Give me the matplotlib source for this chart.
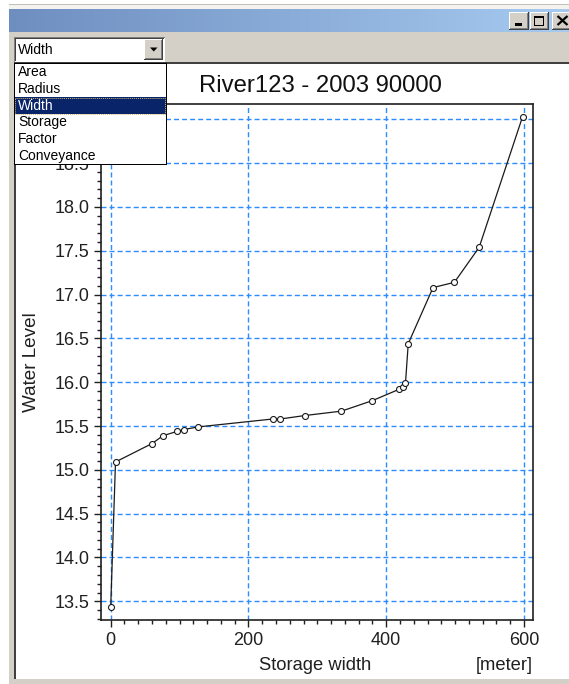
import matplotlib
matplotlib.use('Agg')
import matplotlib.pyplot as plt
import numpy as np
from matplotlib.patches import Rectangle, Polygon
from matplotlib.ticker import MultipleLocator, FixedLocator

plt.rcParams['font.family'] = ['Liberation Sans', 'DejaVu Sans']

# ---------------- data ----------------
storage_width = [0, 7, 60, 76, 97, 106, 127, 235, 246, 282, 335, 380,
                 419, 425, 428, 432, 468, 499, 535, 598]
water_level = [13.43, 15.09, 15.30, 15.39, 15.44, 15.46, 15.49, 15.58, 15.58,
               15.62, 15.67, 15.79, 15.92, 15.95, 15.99, 16.44, 17.08, 17.14,
               17.54, 19.03]
x_ticks = [0, 200, 400, 600]
x_tick_labels = ['0', '200', '400', '600']
y_ticks = [13.5, 14.0, 14.5, 15.0, 15.5, 16.0, 16.5, 17.0, 17.5, 18.0, 18.5, 19.0]
y_tick_labels = ['13.5', '14.0', '14.5', '15.0', '15.5', '16.0', '16.5',
                 '17.0', '17.5', '18.0', '18.5', '19.0']
menu_items = ['Area', 'Radius', 'Width', 'Storage', 'Factor', 'Conveyance']
selected_item = 'Width'
chart_title = 'River123 - 2003 90000'
x_label = 'Storage width'
x_unit = '[meter]'
y_label = 'Water Level'

# ---------------- figure ----------------
W, H = 569, 684
fig = plt.figure(figsize=(W / 100, H / 100), dpi=100)
fig.patch.set_facecolor('white')

GRAY = '#d4d0c8'

# background / window chrome axes in pixel coordinates
bg = fig.add_axes([0, 0, 1, 1], zorder=0, label='bg')
bg.set_xlim(0, W)
bg.set_ylim(H, 0)
bg.axis('off')

def rect(axh, x0, y0, x1, y1, color, **kw):
    axh.add_patch(Rectangle((x0, y0), x1 - x0, y1 - y0, facecolor=color,
                            edgecolor='none', linewidth=0, **kw))

# window body
rect(bg, 9, 4, W, H, GRAY)
rect(bg, 9, 4, W, 5, '#c4c0b8')
rect(bg, 9, 5, W, 9, '#f4f3ef')

# title bar gradient (Windows classic active caption)
c0 = np.array([10, 36, 106]) / 255.0
c1 = np.array([166, 202, 240]) / 255.0
f = np.linspace(0.64, 1.0, 256)
grad = (c0[None, :] + (c1 - c0)[None, :] * f[:, None])[None, :, :]
bg.imshow(grad, extent=(9, W, 32, 9), aspect='auto', interpolation='bilinear', zorder=1)
bg.set_xlim(0, W)
bg.set_ylim(H, 0)

def button3d(axh, x0, y0, x1, y1, z=2):
    rect(axh, x0, y0, x1, y1, '#404040', zorder=z)
    rect(axh, x0, y0, x1 - 1, y1 - 1, 'white', zorder=z)
    rect(axh, x0 + 1, y0 + 1, x1 - 1, y1 - 1, '#808080', zorder=z)
    rect(axh, x0 + 1, y0 + 1, x1 - 2, y1 - 2, GRAY, zorder=z)

# caption buttons
button3d(bg, 509, 12, 529, 29.5)
button3d(bg, 530, 12, 549.5, 29.5)
button3d(bg, 552.5, 12, 572, 29.5)
rect(bg, 515.5, 23, 522.5, 25.5, 'black', zorder=3)
rect(bg, 534.5, 15.5, 544.5, 26, 'black', zorder=3)
rect(bg, 535.5, 18, 543.5, 25, GRAY, zorder=3)
bg.plot([557.5, 567.5], [16, 25], color='black', lw=1.6, solid_capstyle='butt', zorder=3)
bg.plot([557.5, 567.5], [25, 16], color='black', lw=1.6, solid_capstyle='butt', zorder=3)

# chart panel (sunken)
rect(bg, 14, 61.5, W, 679, '#404040')
rect(bg, 16, 63.5, W, 679, 'white')

# combo box
rect(bg, 14, 37, 165, 61.5, 'white', zorder=2)
rect(bg, 14, 37, 165, 38, '#808080', zorder=2)
rect(bg, 14, 37, 15, 61.5, '#808080', zorder=2)
rect(bg, 15, 38, 164, 39, '#404040', zorder=2)
rect(bg, 15, 38, 16, 60.5, '#404040', zorder=2)
rect(bg, 16, 39, 163, 60, 'white', zorder=2)
button3d(bg, 144, 39, 163.5, 60, z=3)
bg.add_patch(Polygon([[150, 47.5], [157.5, 47.5], [153.75, 51.5]], closed=True,
                     facecolor='black', edgecolor='none', zorder=4))
bg.text(18, 49.5, selected_item, fontsize=10, va='center', ha='left', color='black', zorder=4)

# ---------------- chart ----------------
L, R, T, B = 100.7, 532.7, 104.0, 620.3
ax = fig.add_axes([L / W, (H - B) / H, (R - L) / W, (B - T) / H], zorder=1)
ax.set_facecolor('white')
ax.set_xlim(-14.5, 612.7)
ax.set_ylim(13.283, 19.175)

ax.plot(storage_width, water_level, color='#1a1a1a', lw=0.9, marker='o',
        ms=4.3, mfc='white', mec='#1a1a1a', mew=0.8, zorder=3)

ax.xaxis.set_major_locator(FixedLocator(x_ticks))
ax.set_xticklabels(x_tick_labels)
ax.xaxis.set_minor_locator(MultipleLocator(20))
ax.yaxis.set_major_locator(FixedLocator(y_ticks))
ax.set_yticklabels(y_tick_labels)
ax.yaxis.set_minor_locator(MultipleLocator(0.1))

ax.grid(True, which='major', color='#2b8cff', lw=1.0, linestyle=(0, (3.6, 2.2)))
ax.set_axisbelow(True)
for s in ax.spines.values():
    s.set_linewidth(1.2)
    s.set_color('#202020')

ax.tick_params(which='major', direction='out', length=5, width=1.0, color='#202020',
               labelsize=13, labelcolor='#202020', pad=3)
ax.tick_params(which='minor', direction='out', length=2.8, width=1.0, color='#202020')
ax.tick_params(axis='x', which='major', pad=3.5)

ax.set_title(chart_title, fontsize=17.2, x=0.508, y=1.034, va='center', pad=0, color='#101010')
ax.set_xlabel(x_label, fontsize=13.2, color='#202020')
ax.xaxis.set_label_coords(0.496, -0.0866)
ax.xaxis.label.set_va('center')
ax.text(1.0, -0.0866, x_unit, transform=ax.transAxes, fontsize=13.2, ha='right',
        va='center', color='#202020')
ax.set_ylabel(y_label, fontsize=13.6, color='#202020')
ax.yaxis.set_label_coords(-0.1597, 0.5009)
ax.yaxis.label.set_va('center')

# ---------------- dropdown list (on top) ----------------
fg = fig.add_axes([0, 0, 1, 1], zorder=5, label='fg')
fg.set_xlim(0, W)
fg.set_ylim(H, 0)
fg.axis('off')
fg.patch.set_alpha(0)
rect(fg, 14, 62.5, 167, 164.5, 'black')
rect(fg, 15, 63.5, 166, 163.5, 'white')
row_h = 16.7
top = 64.0
for i, item in enumerate(menu_items):
    yc = top + row_h * (i + 0.5)
    col = 'black'
    if item == selected_item:
        rect(fg, 15, top + row_h * i, 166, top + row_h * (i + 1), '#0a246a')
        fg.add_patch(Rectangle((15.5, top + row_h * i + 0.5), 150, row_h - 1,
                               facecolor='none', edgecolor='#c8b878', lw=0.7,
                               linestyle=(0, (1, 1))))
        col = 'white'
    fg.text(18, yc, item, fontsize=10, va='center', ha='left', color=col)

fig.savefig('out.png', dpi=100)
